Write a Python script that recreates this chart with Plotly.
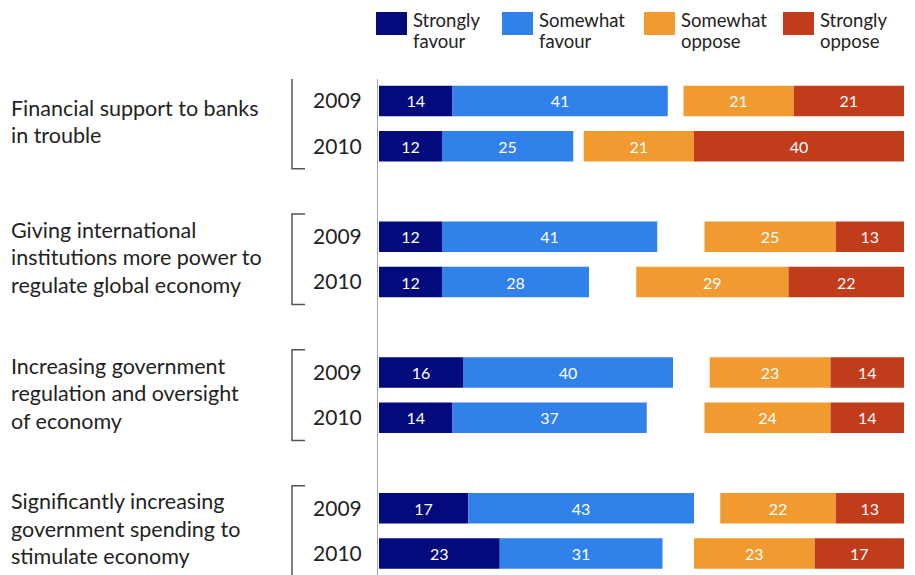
import plotly.graph_objects as go

# Survey topics (one group of two bars each) and the survey years
topics = [
    "Financial support to banks<br>in trouble",
    "Giving international<br>institutions more power to<br>regulate global economy",
    "Increasing government<br>regulation and oversight<br>of economy",
    "Significantly increasing<br>government spending to<br>stimulate economy",
]
years = ["2009", "2010"]

# Response categories and their colours
series_names = ["Strongly<br>favour", "Somewhat<br>favour", "Somewhat<br>oppose", "Strongly<br>oppose"]
series_colors = ["#020a7c", "#3081ea", "#f09a30", "#c03c1a"]

# Percentages, ordered topic by topic: 2009, 2010
strongly_favour = [14, 12, 12, 12, 16, 14, 17, 23]
somewhat_favour = [41, 25, 41, 28, 40, 37, 43, 31]
somewhat_oppose = [21, 21, 25, 29, 23, 24, 22, 23]
strongly_oppose = [21, 40, 13, 22, 14, 14, 13, 17]

FONT = "Lato"
TEXT_COLOR = "#232323"

# Row positions on the y axis: each topic gets two rows plus a blank spacer row
rows = [3 * g + j for g in range(len(topics)) for j in range(len(years))]
row_labels = [years[j] for g in range(len(topics)) for j in range(len(years))]

# Favour bars grow from 0; oppose bars are aligned to the right end (100)
oppose_total = [a + b for a, b in zip(somewhat_oppose, strongly_oppose)]
bases = [
    [0] * len(rows),
    strongly_favour,
    [100 - t for t in oppose_total],
    [100 - v for v in strongly_oppose],
]
values = [strongly_favour, somewhat_favour, somewhat_oppose, strongly_oppose]

fig = go.Figure()
for name, color, vals, base in zip(series_names, series_colors, values, bases):
    fig.add_trace(go.Bar(
        y=rows,
        x=vals,
        base=base,
        orientation="h",
        name=name.replace("<br>", " "),
        marker=dict(color=color, line=dict(width=0)),
        width=0.675,
        text=vals,
        texttemplate="%{text}",
        textposition="inside",
        insidetextanchor="middle",
        textfont=dict(family=FONT, size=16, color="white"),
        constraintext="none",
        showlegend=False,
        hoverinfo="skip",
    ))

W, H = 915, 575
M_L, M_R, M_T, M_B = 378, 11, 79, 0
plot_w = W - M_L - M_R
plot_h = H - M_T - M_B


def px_x(px):
    return (px - M_L) / plot_w


def px_y(py):
    return (H - M_B - py) / plot_h


annotations = []
shapes = []

# Topic labels, one annotation per line for tighter leading
line_gap = 27.5
for g, topic in enumerate(topics):
    lines = topic.split("<br>")
    n = len(lines)
    center = 3 * g + 0.5
    for i, line in enumerate(lines):
        annotations.append(dict(
            text=line, xref="paper", yref="y", x=px_x(9), y=center,
            yshift=2 - (i - (n - 1) / 2) * line_gap,
            xanchor="left", yanchor="middle", showarrow=False,
            font=dict(family=FONT, size=21.5, color=TEXT_COLOR),
        ))
    # Bracket joining the two year rows of a topic
    y0, y1 = center - 1.0, center + 1.0
    xa, xb = px_x(292), px_x(305)
    shapes.append(dict(
        type="path", xref="paper", yref="y",
        path=f"M {xb} {y0} L {xa} {y0} L {xa} {y1} L {xb} {y1}",
        line=dict(color="#555555", width=1.5),
    ))

# Legend: coloured boxes with two-line captions
box_left = [376, 502, 644, 783]
for name, color, bx in zip(series_names, series_colors, box_left):
    shapes.append(dict(
        type="rect", xref="paper", yref="paper",
        x0=px_x(bx), x1=px_x(bx + 31), y0=px_y(35), y1=px_y(12),
        fillcolor=color, line=dict(width=0),
    ))
    for i, line in enumerate(name.split("<br>")):
        annotations.append(dict(
            text=line, xref="paper", yref="paper",
            x=px_x(bx + 35), y=px_y(20 + 21 * i),
            xanchor="left", yanchor="middle", showarrow=False,
            font=dict(family=FONT, size=18.5, color=TEXT_COLOR),
        ))

fig.update_layout(
    width=W, height=H,
    margin=dict(l=M_L, r=M_R, t=M_T, b=M_B),
    barmode="overlay",
    paper_bgcolor="white",
    plot_bgcolor="white",
    xaxis=dict(range=[-0.19, 100], visible=False, fixedrange=True),
    yaxis=dict(
        range=[10.475, -0.486],
        tickmode="array", tickvals=rows, ticktext=row_labels,
        ticks="", showgrid=False, zeroline=False,
        showline=True, linecolor="#a8a8a8", linewidth=1,
        ticklabelstandoff=11,
        tickfont=dict(family=FONT, size=21, color=TEXT_COLOR),
        fixedrange=True,
    ),
    annotations=annotations,
    shapes=shapes,
)

fig.write_html("out.html")
